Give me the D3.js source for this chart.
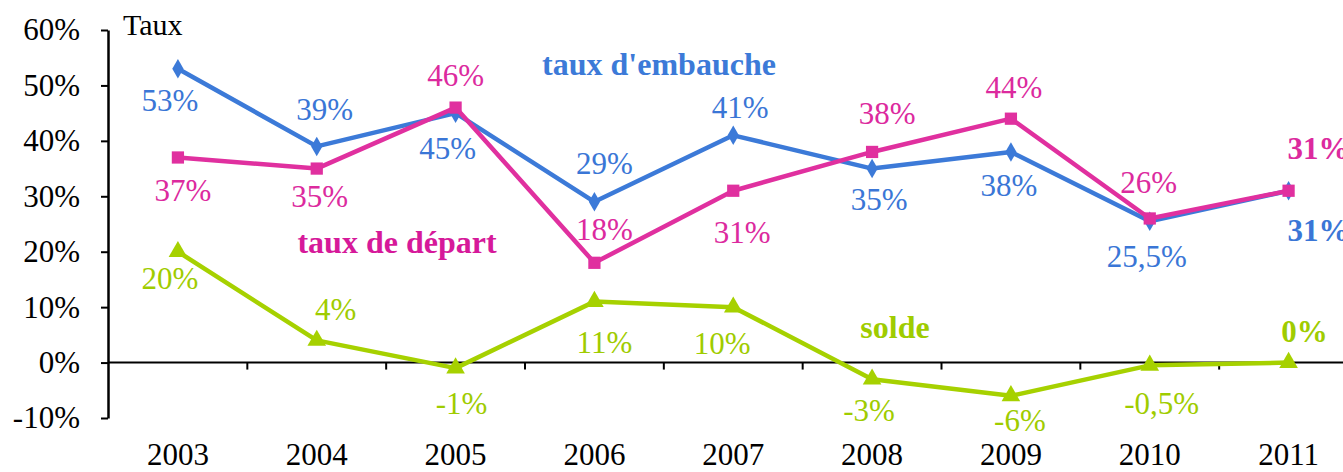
<!DOCTYPE html>
<html>
<head>
<meta charset="utf-8">
<script src="https://cdn.jsdelivr.net/npm/d3@7"></script>
<style>
  body { margin: 0; background: #fff; }
  text { font-family: "Liberation Serif", "Times New Roman", serif; }
</style>
</head>
<body>
<svg class="chart" width="1343" height="472"></svg>
<script>
const years = ["2003", "2004", "2005", "2006", "2007", "2008", "2009", "2010", "2011"]
const embauche = [53, 39, 45, 29, 41, 35, 38, 25.5, 31]
const depart = [37, 35, 46, 18, 31, 38, 44, 26, 31]
const solde = [20, 4, -1, 11, 10, -3, -6, -0.5, 0]
const yTicks = [-10, 0, 10, 20, 30, 40, 50, 60]

// label text as printed on the chart
const embaucheLabels = ["53%", "39%", "45%", "29%", "41%", "35%", "38%", "25,5%", "31%"]
const departLabels = ["37%", "35%", "46%", "18%", "31%", "38%", "44%", "26%", "31%"]
const soldeLabels = ["20%", "4%", "-1%", "11%", "10%", "-3%", "-6%", "-0,5%", "0%"]

// where each value label sits relative to its point [dx, dy]
const embaucheOffsets = [[-8, 32], [8, -37], [-8, 35], [10, -38], [7, -28], [7, 31], [-2, 34], [-3, 35], [30, 40]]
const departOffsets = [[5, 33], [3, 28], [0, -32], [10, -33], [9, 42], [15, -38], [3, -31], [-1, -36], [30, -42]]
const soldeOffsets = [[-8, 27], [19, -31], [6, 35], [10, 41], [-11, 36], [-3, 31], [9, 25], [12, 38], [16, -31]]

const blue = "#3c7ad8"
const pink = "#e0309f"
const green = "#a6d100"

const svg = d3.select("svg.chart")

const x = d3.scaleBand().domain(years).range([108.5, 1358]).padding(0)
const cx = d => x(d) + x.bandwidth() / 2
const y = d3.scaleLinear().domain([-10, 60]).range([418, 30])

// y axis
const yAxis = svg.append("g")
  .attr("transform", "translate(108,0)")
  .call(d3.axisLeft(y).tickValues(yTicks).tickSize(7).tickSizeOuter(0).tickPadding(21).tickFormat(d => d + "%"))
yAxis.select(".domain").attr("stroke", "#000").attr("stroke-width", 2.5)
yAxis.selectAll(".tick line").attr("stroke", "#000").attr("stroke-width", 2)
yAxis.selectAll(".tick text").attr("font-size", 31).attr("font-family", "Liberation Serif").attr("fill", "#000")

// x axis along 0%
svg.append("line")
  .attr("x1", 108).attr("x2", 1343)
  .attr("y1", y(0)).attr("y2", y(0))
  .attr("stroke", "#000").attr("stroke-width", 2)

svg.selectAll("line.xtick")
  .data(years.slice(1))
  .enter()
  .append("line")
  .attr("class", "xtick")
  .attr("x1", d => x(d)).attr("x2", d => x(d))
  .attr("y1", y(0)).attr("y2", y(0) + 7)
  .attr("stroke", "#000").attr("stroke-width", 2)

svg.selectAll("text.year")
  .data(years)
  .enter()
  .append("text")
  .attr("class", "year")
  .attr("x", d => cx(d))
  .attr("y", 465)
  .attr("text-anchor", "middle")
  .attr("font-size", 31)
  .text(d => d)

svg.append("text")
  .attr("x", 123).attr("y", 35)
  .attr("font-size", 30)
  .text("Taux")

const line = d3.line().x((d, i) => cx(years[i])).y(d => y(d))

function drawSeries(values, color, labelColor, labels, offsets, symbolType, symbolSize) {
  const g = svg.append("g")
  g.append("path")
    .datum(values)
    .attr("d", line)
    .attr("fill", "none")
    .attr("stroke", color)
    .attr("stroke-width", 4.5)
    .attr("stroke-linejoin", "round")

  g.selectAll("path.marker")
    .data(values)
    .enter()
    .append("path")
    .attr("class", "marker")
    .attr("transform", (d, i) => `translate(${cx(years[i])}, ${y(d)})`)
    .attr("d", d3.symbol().type(symbolType).size(symbolSize))
    .attr("fill", color)

  g.selectAll("text")
    .data(values)
    .enter()
    .append("text")
    .attr("x", (d, i) => cx(years[i]) + offsets[i][0])
    .attr("y", (d, i) => y(d) + offsets[i][1])
    .attr("dy", "0.34em")
    .attr("text-anchor", "middle")
    .attr("font-size", 31)
    .attr("font-weight", (d, i) => i === values.length - 1 ? "bold" : "normal")
    .attr("fill", labelColor)
    .text((d, i) => labels[i])
}

drawSeries(solde, green, "#9fcc00", soldeLabels, soldeOffsets, d3.symbolTriangle, 150)
drawSeries(embauche, blue, "#3a76d6", embaucheLabels, embaucheOffsets, d3.symbolDiamond, 110)
drawSeries(depart, pink, "#dc2a9e", departLabels, departOffsets, d3.symbolSquare, 150)

// series names
const seriesNames = ["taux d'embauche", "taux de départ", "solde"]
const seriesNameColors = [blue, "#d6199a", "#9fcc00"]
const seriesNameAt = [[659, 75], [397, 253], [895, 338]]

svg.selectAll("text.sname")
  .data(seriesNames)
  .enter()
  .append("text")
  .attr("class", "sname")
  .attr("x", (d, i) => seriesNameAt[i][0])
  .attr("y", (d, i) => seriesNameAt[i][1])
  .attr("text-anchor", "middle")
  .attr("font-size", 32)
  .attr("font-weight", "bold")
  .attr("fill", (d, i) => seriesNameColors[i])
  .text(d => d)
</script>
</body>
</html>
